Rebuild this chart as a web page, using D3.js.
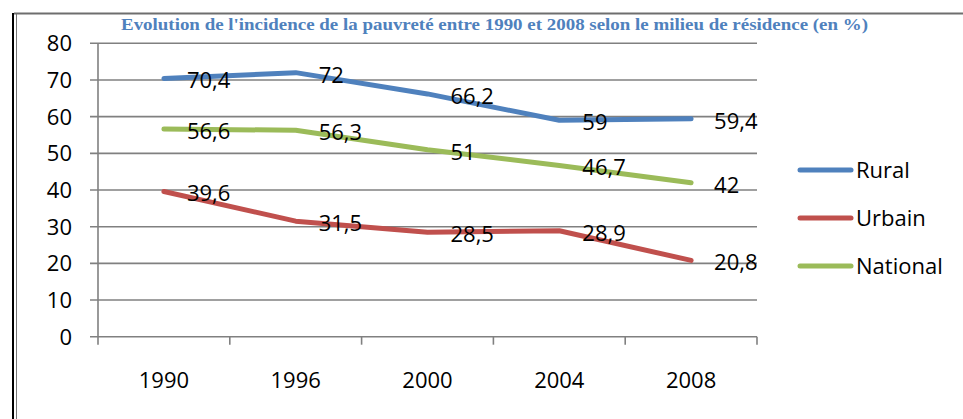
<!DOCTYPE html>
<html>
<head>
<meta charset="utf-8">
<script src="https://cdn.jsdelivr.net/npm/d3@7"></script>
<style>
  body { margin: 0; background: #fff; }
  svg { display: block; }
</style>
</head>
<body>
<div id="chart"></div>
<script>
// data
const years = ['1990', '1996', '2000', '2004', '2008'];
const rural = [70.4, 72, 66.2, 59, 59.4];
const urbain = [39.6, 31.5, 28.5, 28.9, 20.8];
const national = [56.6, 56.3, 51, 46.7, 42];
const yTicks = [0, 10, 20, 30, 40, 50, 60, 70, 80];
const seriesNames = ['Rural', 'Urbain', 'National'];
const title = "Evolution de l'incidence de la pauvreté entre 1990 et 2008 selon le milieu de résidence (en %)";

const series = [
  {name: seriesNames[0], values: rural, color: '#4F81BD'},
  {name: seriesNames[1], values: urbain, color: '#C0504D'},
  {name: seriesNames[2], values: national, color: '#9BBB59'}
];

const width = 963, height = 419;
const font = "'Open Sans', 'Noto Sans', sans-serif";

let svg = d3.select('#chart').append('svg')
  .attr('width', width)
  .attr('height', height);

// outer frame - double line on the left, grey line on top
svg.append('line')
  .attr('x1', 13).attr('x2', 13).attr('y1', 13).attr('y2', height)
  .style('stroke', '#000').style('stroke-width', 2);
svg.append('line')
  .attr('x1', 16.5).attr('x2', 16.5).attr('y1', 14).attr('y2', height)
  .style('stroke', '#777').style('stroke-width', 1);
svg.append('line')
  .attr('x1', 14).attr('x2', width).attr('y1', 13.5).attr('y2', 13.5)
  .style('stroke', '#6e6e6e').style('stroke-width', 2);

// title
svg.append('text')
  .attr('x', 121)
  .attr('y', 29.5)
  .attr('textLength', 747)
  .attr('lengthAdjust', 'spacingAndGlyphs')
  .style('font-family', "'Liberation Serif', 'Times New Roman', serif")
  .style('font-weight', 'bold')
  .style('font-size', '17px')
  .style('fill', '#4F81BD')
  .text(title);

// plot area
let plotLeft = 98, plotRight = 757, plotTop = 43.3, plotBottom = 336.7;

let x = d3.scaleBand()
  .domain(years)
  .range([plotLeft, plotRight]);
let y = d3.scaleLinear()
  .domain([0, 80])
  .range([plotBottom, plotTop]);

let g = svg.append('g');

// horizontal gridlines
g.selectAll('.grid')
  .data(yTicks)
  .enter().append('line')
  .attr('class', 'grid')
  .attr('x1', plotLeft - 8)
  .attr('x2', plotRight)
  .attr('y1', d => y(d))
  .attr('y2', d => y(d))
  .style('stroke', '#808080')
  .style('stroke-width', 1.6);

// y axis line
g.append('line')
  .attr('x1', plotLeft).attr('x2', plotLeft)
  .attr('y1', plotTop).attr('y2', plotBottom + 8)
  .style('stroke', '#808080').style('stroke-width', 1.6);

// x tick marks at category boundaries
let bounds = years.map(d => x(d)).concat([plotRight]);
g.selectAll('.xtick')
  .data(bounds.slice(1))
  .enter().append('line')
  .attr('class', 'xtick')
  .attr('x1', d => d).attr('x2', d => d)
  .attr('y1', plotBottom).attr('y2', plotBottom + 8)
  .style('stroke', '#808080').style('stroke-width', 1.6);

// y tick labels
g.selectAll('.ylab')
  .data(yTicks)
  .enter().append('text')
  .attr('class', 'ylab')
  .attr('x', 72)
  .attr('y', d => y(d))
  .attr('dy', '0.36em')
  .attr('text-anchor', 'end')
  .style('font-family', font)
  .style('font-size', '22px')
  .style('fill', '#000')
  .text(d => d);

// x labels
g.selectAll('.xlab')
  .data(years)
  .enter().append('text')
  .attr('class', 'xlab')
  .attr('x', d => x(d) + x.bandwidth() / 2)
  .attr('y', 380)
  .attr('dy', '0.36em')
  .attr('text-anchor', 'middle')
  .style('font-family', font)
  .style('font-size', '22px')
  .style('fill', '#000')
  .text(d => d);

let line = d3.line()
  .x((d, i) => x(years[i]) + x.bandwidth() / 2)
  .y(d => y(d));

// series lines
g.selectAll('.series')
  .data(series)
  .enter().append('path')
  .attr('class', 'series')
  .attr('d', d => line(d.values))
  .style('fill', 'none')
  .style('stroke', d => d.color)
  .style('stroke-width', 5)
  .style('stroke-linecap', 'round')
  .style('stroke-linejoin', 'round');

// data labels to the right of each point
series.forEach(function(s) {
  g.selectAll(null)
    .data(s.values)
    .enter().append('text')
    .attr('x', (d, i) => x(years[i]) + x.bandwidth() / 2 + 23)
    .attr('y', d => y(d) + 2)
    .attr('dy', '0.36em')
    .style('font-family', font)
    .style('font-size', '22px')
    .style('fill', '#000')
    .text(d => String(d).replace('.', ','));
});

// legend
let legend = svg.append('g');
let legendY = [170, 218, 266];
series.forEach(function(s, i) {
  legend.append('line')
    .attr('x1', 800).attr('x2', 851)
    .attr('y1', legendY[i]).attr('y2', legendY[i])
    .style('stroke', s.color)
    .style('stroke-width', 5)
    .style('stroke-linecap', 'round');
  legend.append('text')
    .attr('x', 856)
    .attr('y', legendY[i])
    .attr('dy', '0.36em')
    .style('font-family', font)
    .style('font-size', '22px')
    .style('fill', '#000')
    .text(s.name);
});
</script>
</body>
</html>
